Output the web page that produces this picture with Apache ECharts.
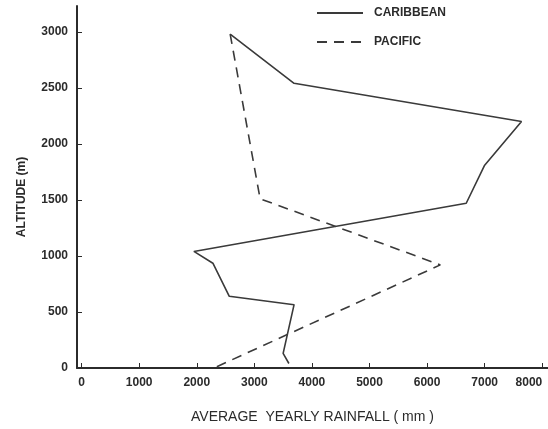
<!DOCTYPE html>
<html>
<head>
<meta charset="utf-8">
<script src="https://cdn.jsdelivr.net/npm/echarts@6/dist/echarts.min.js"></script>
<style>
  html, body { margin: 0; padding: 0; background: #fff; }
  #chart { width: 548px; height: 429px; }
</style>
</head>
<body>
<div id="chart"></div>
<script>
// Average yearly rainfall (mm) against altitude (m)
const seriesNames = ['CARIBBEAN', 'PACIFIC'];
const caribbeanRain = [2580, 3690, 7640, 7000, 6680, 1950, 2280, 2565, 3690, 3500, 3600];
const caribbeanAlt  = [2980, 2540, 2200, 1810, 1470, 1040, 935, 640, 565, 130, 40];
const pacificRain = [2580, 3100, 6230, 2340];
const pacificAlt  = [2980, 1510, 920, 10];
const xTicks = [0, 1000, 2000, 3000, 4000, 5000, 6000, 7000, 8000];

const ink = '#2b2b2b';
const font = 'Liberation Sans, Arial, Helvetica, sans-serif';

const pairs = (xs, ys) => xs.map((x, i) => [x, ys[i]]);
const plain = v => String(v);

const chart = echarts.init(document.getElementById('chart'), null, { renderer: 'canvas' });
chart.setOption({
  animation: false,
  backgroundColor: '#fff',
  textStyle: { fontFamily: font },
  grid: { left: 77, right: 0, top: 6, bottom: 54, containLabel: false },
  legend: {
    orient: 'vertical',
    left: 311,
    top: 2,
    itemWidth: 46,
    itemHeight: 10,
    itemGap: 17,
    itemStyle: { opacity: 0 },
    textStyle: { color: ink, fontSize: 12, fontWeight: 'bold', fontFamily: font, padding: [0, 0, 0, 6] },
    data: seriesNames
  },
  xAxis: {
    type: 'value',
    min: -80,
    max: 8100,
    name: 'AVERAGE  YEARLY RAINFALL ( mm )',
    nameLocation: 'middle',
    nameGap: 42,
    nameTextStyle: { color: ink, fontSize: 14, fontFamily: font },
    splitLine: { show: false },
    axisLine: { onZero: false, lineStyle: { color: ink, width: 2 } },
    axisTick: { inside: true, length: 5, customValues: xTicks, lineStyle: { color: ink, width: 1 } },
    axisLabel: {
      customValues: xTicks,
      formatter: plain,
      color: ink, fontSize: 12, fontWeight: 'bold', fontFamily: font, margin: 9,
      alignMaxLabel: 'right'
    }
  },
  yAxis: {
    type: 'value',
    min: 0,
    max: 3230,
    interval: 500,
    name: 'ALTITUDE (m)',
    nameLocation: 'middle',
    nameRotate: 90,
    nameGap: 49,
    nameTextStyle: { color: ink, fontSize: 12, fontWeight: 'bold', fontFamily: font, padding: [0, 20, 0, 0] },
    splitLine: { show: false },
    axisLine: { onZero: false, lineStyle: { color: ink, width: 2 } },
    axisTick: { inside: true, length: 5, lineStyle: { color: ink, width: 1 } },
    axisLabel: {
      formatter: plain,
      color: ink, fontSize: 12, fontWeight: 'bold', fontFamily: font, margin: 9,
      showMaxLabel: false
    }
  },
  series: [
    {
      name: seriesNames[0],
      type: 'line',
      symbol: 'none',
      data: pairs(caribbeanRain, caribbeanAlt),
      lineStyle: { color: '#3a3a3a', width: 1.6 },
      itemStyle: { color: '#3a3a3a' }
    },
    {
      name: seriesNames[1],
      type: 'line',
      symbol: 'none',
      data: pairs(pacificRain, pacificAlt),
      lineStyle: { color: '#3a3a3a', width: 1.6, type: [10, 7] },
      itemStyle: { color: '#3a3a3a' }
    }
  ]
});
</script>
</body>
</html>
